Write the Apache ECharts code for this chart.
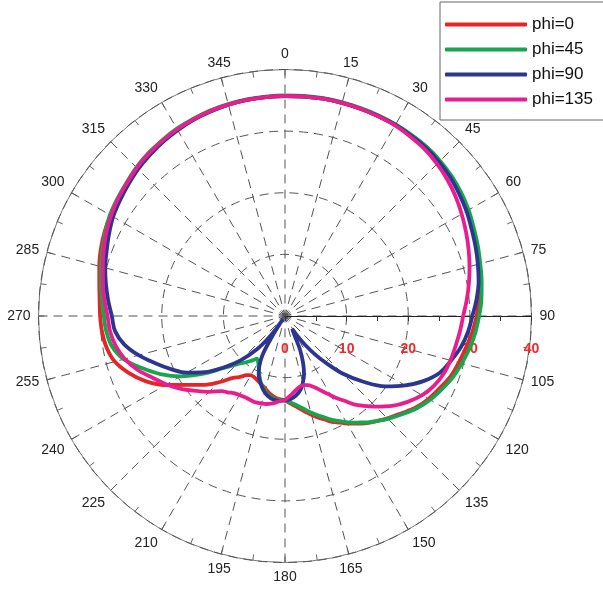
<!DOCTYPE html>
<html>
<head>
<meta charset="utf-8">
<script src="https://cdn.jsdelivr.net/npm/echarts@6/dist/echarts.min.js"></script>
<style>
html,body{margin:0;padding:0;background:#fff;}
#chart{width:603px;height:590px;}
</style>
</head>
<body>
<div id="chart"></div>
<script>
// Angles (degrees, clockwise from north), shared by all series
const ANGLES = [90,95,100,105,110,115,120,125,130,135,139,142,145,148,151,154,156,159,162,165,168,172,176,180,184,188,192,196,200,204,207,210,212,213.5,215,217,220,225,230,235,240,245,250,255,260,265,270,
  275,280,285,290,295,300,305,310,315,320,325,330,335,340,345,350,355,
  0,5,10,15,20,25,30,35,40,45,50,55,60,65,70,75,80,85,90];

const PHI0 = [31.1,30.5,29.8,29.2,28.6,27.7,26.9,25.9,24.6,23.5,22.6,22.0,21.3,20.6,19.9,19.2,18.8,18.0,17.3,16.6,15.9,15.0,14.3,13.7,13.5,13.2,12.7,12.1,11.65,11.3,11.1,11.1,11.3,11.5,11.9,12.4,13.1,15.2,17.4,19.5,22.4,25.0,27.0,28.6,29.4,29.8,30.0,
  30.2,30.6,31.2,31.8,32.3,32.7,33.1,33.5,34.0,34.4,34.7,35.0,35.2,35.4,35.5,35.6,35.65,
  35.7,35.75,35.8,35.8,35.8,35.8,35.8,35.75,35.7,35.5,35.2,34.7,34.2,33.6,33.1,32.6,32.1,31.6,31.1];

const PHI45 = [31.5,31.0,30.4,29.7,29.0,28.1,27.2,26.1,24.8,23.6,22.6,21.9,21.1,20.4,19.6,18.9,18.4,17.6,16.9,16.2,15.5,14.7,14.1,13.7,13.6,13.5,13.1,12.4,11.5,10.3,9.4,8.7,8.4,8.3,8.6,9.1,9.8,11.1,13.2,16.4,19.6,22.3,24.7,27.1,28.5,29.1,29.4,
  29.8,30.3,30.9,31.5,32.2,32.8,33.2,33.6,34.1,34.5,34.8,35.1,35.3,35.5,35.6,35.7,35.75,
  35.8,35.85,35.9,35.9,35.9,35.9,35.9,35.85,35.8,35.6,35.3,34.9,34.4,33.8,33.3,32.8,32.4,32.0,31.5];

const PHI90 = [30.4,29.8,29.0,27.9,26.8,24.9,22.5,19.9,16.6,13.2,10.0,7.9,5.8,3.8,2.4,3.7,6.0,8.2,10.0,11.2,12.2,13.0,13.5,13.7,13.8,13.7,13.3,12.6,11.6,10.5,9.2,7.3,4.2,0.6,2.6,4.6,7.0,10.2,13.0,15.9,18.4,20.4,22.4,24.6,26.5,27.7,28.1,
  28.8,29.5,30.2,30.8,31.5,32.2,32.7,33.2,33.7,34.1,34.5,34.8,35.1,35.3,35.5,35.6,35.65,
  35.7,35.75,35.8,35.8,35.8,35.8,35.8,35.7,35.6,35.35,35.0,34.5,34.0,33.4,32.9,32.4,31.9,31.2,30.4];

const PHI135 = [28.9,28.5,28.1,27.8,27.4,26.7,25.7,24.3,22.7,20.8,19.3,18.2,16.8,15.7,14.5,13.5,12.9,12.2,11.8,11.6,11.7,12.2,12.9,13.6,13.9,14.3,14.6,14.7,14.8,14.7,14.7,14.8,14.9,15.0,15.2,15.5,15.9,17.4,18.9,20.6,22.2,23.7,25.5,26.9,27.9,28.5,28.8,
  29.4,30.0,30.6,31.3,32.0,32.6,33.1,33.5,34.0,34.4,34.7,35.0,35.2,35.4,35.5,35.6,35.65,
  35.7,35.75,35.8,35.8,35.8,35.75,35.7,35.5,35.3,34.9,34.4,33.8,33.1,32.4,31.7,31.0,30.3,29.6,28.9];

const SERIES_NAMES = ['phi=0','phi=45','phi=90','phi=135'];
const SERIES_VALUES = [PHI0, PHI45, PHI90, PHI135];
const COLORS = ['#e52628','#16a64c','#2c3590','#ea1d8e'];

const RADIUS_TICKS = [0,10,20,30,40];
const ANGLE_LABEL_STEP = 15;

// unwrap angles so the sequence is increasing from 90 to 450
function unwrap(angles){
  const out = [];
  let base = 0, prev = -Infinity;
  angles.forEach(a=>{
    if (a + base < prev) base += 360;
    out.push(a + base);
    prev = a + base;
  });
  return out;
}
const UA = unwrap(ANGLES);

const FONT = 'Liberation Sans, Arial, sans-serif';
const chart = echarts.init(document.getElementById('chart'), null, {renderer:'canvas'});

const series = SERIES_NAMES.map((name,k)=>({
  name,
  type:'line',
  coordinateSystem:'polar',
  smooth:0.35,
  symbol:'none',
  lineStyle:{width:3.8,color:COLORS[k]},
  itemStyle:{color:COLORS[k]},
  z:10+k,
  data: SERIES_VALUES[k].map((r,i)=>[r, UA[i]])
}));

chart.setOption({
  animation:false,
  backgroundColor:'#fff',
  polar:{center:[285,316], radius:246.5},
  angleAxis:{
    type:'value', min:90, max:450, interval:ANGLE_LABEL_STEP,
    startAngle:0, clockwise:true,
    axisLine:{show:true, lineStyle:{color:'#777', width:1}},
    axisTick:{show:true, inside:true, length:6, lineStyle:{color:'#666'}},
    minorTick:{show:true, splitNumber:2, length:6, lineStyle:{color:'#666'}},
    splitLine:{show:true, lineStyle:{color:'#555', width:1, type:[9,6]}},
    axisLabel:{
      margin:8, color:'#222', fontSize:14, fontFamily:FONT,
      formatter:v=> v===450 ? '' : String(v%360)
    }
  },
  radiusAxis:{
    type:'value', min:RADIUS_TICKS[0], max:RADIUS_TICKS[RADIUS_TICKS.length-1], interval:10,
    axisLine:{show:true, lineStyle:{color:'#222', width:1}},
    axisTick:{show:true, length:-5, lineStyle:{color:'#333'}},
    minorTick:{show:true, splitNumber:2, length:-5, lineStyle:{color:'#333'}},
    splitLine:{show:true, lineStyle:{color:'#555', width:1, type:[9,6]}},
    axisLabel:{show:true, margin:-40, color:'#ee2a2a', fontSize:14, fontWeight:'bold', fontFamily:FONT, showMinLabel:true, showMaxLabel:true},
    z:5
  },
  legend:{
    show:true, orient:'vertical', left:440, top:2,
    padding:[14,40,12,5], itemGap:8, itemWidth:82, itemHeight:4,
    icon:'roundRect',
    borderColor:'#666', borderWidth:1, backgroundColor:'#fff',
    textStyle:{fontSize:17, color:'#111', fontFamily:FONT},
    data:SERIES_NAMES
  },
  series
});
</script>
</body>
</html>
